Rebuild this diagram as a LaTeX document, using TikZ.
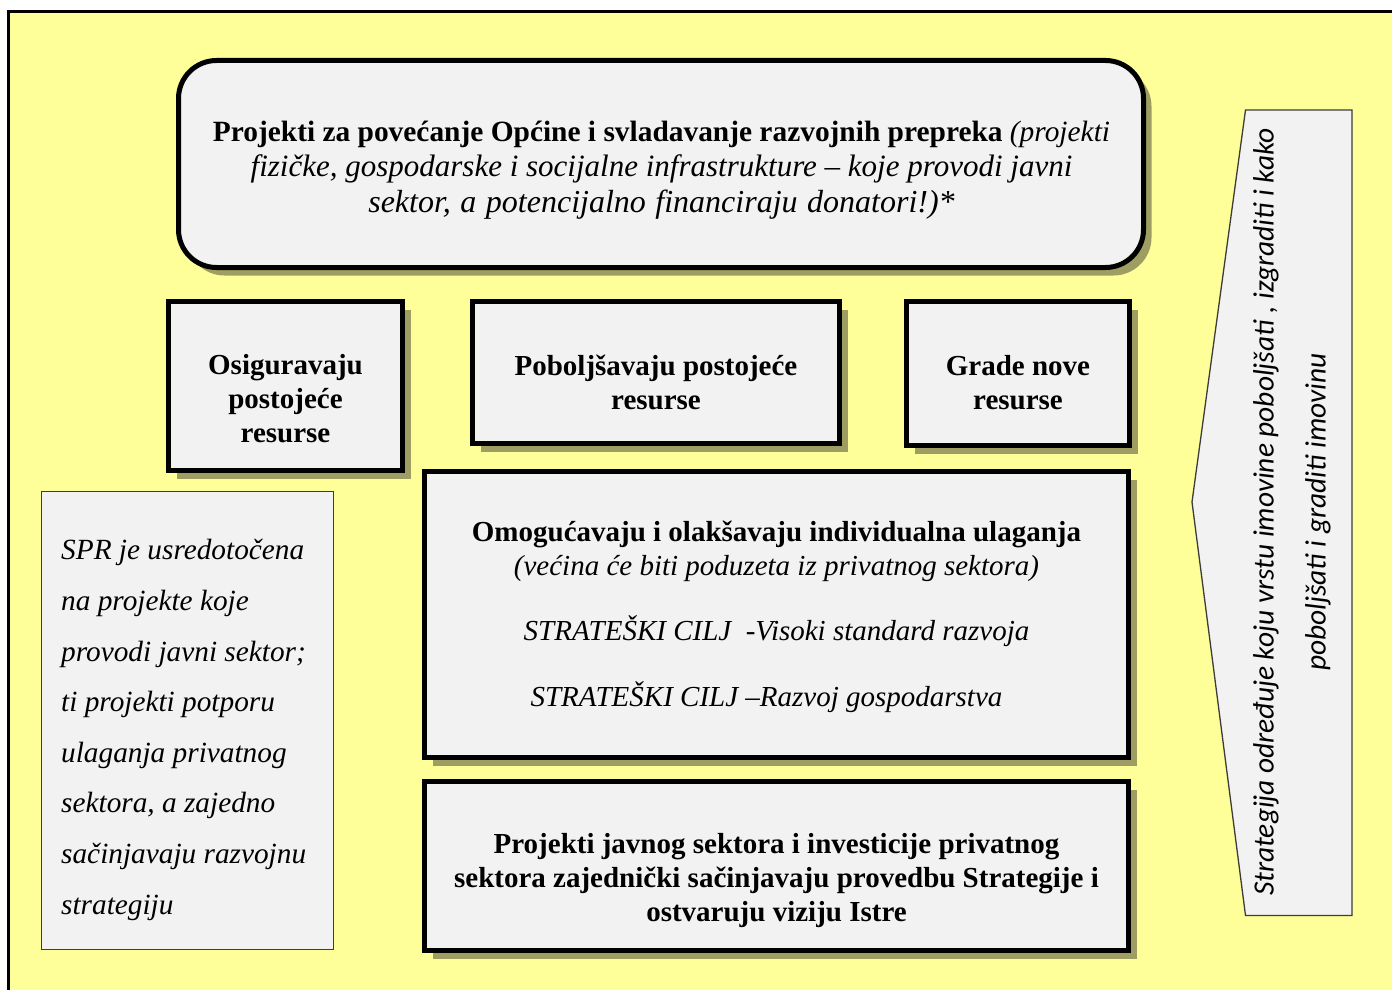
\documentclass[tikz,border=0pt]{standalone}
\usepackage{fontspec}
\setmainfont{Liberation Serif}
\newfontfamily\calib{Carlito}
\usetikzlibrary{shadows}
\definecolor{bgyel}{RGB}{255,255,153}
\definecolor{boxfill}{RGB}{242,242,242}
\definecolor{shcol}{RGB}{158,158,98}
\definecolor{thinline}{RGB}{60,60,60}
\tikzset{
  bx/.style={draw=black, line width=5pt, fill=boxfill, inner sep=0pt,
    drop shadow={shadow xshift=8pt, shadow yshift=-8pt, fill=shcol, opacity=1}},
  thinbx/.style={draw=thinline, line width=1.3pt, fill=boxfill, inner sep=0pt},
  btxt/.style={font=\fontsize{29}{34}\selectfont\bfseries, align=center, inner sep=0pt},
  mtxt/.style={font=\fontsize{29}{34}\selectfont, align=center, inner sep=0pt},
  ltxt/.style={font=\fontsize{29.3}{50.6}\selectfont\itshape, align=left, inner sep=0pt},
  rtxt/.style={font=\fontsize{29.4}{52}\selectfont\calib\itshape, align=center, inner sep=0pt}
}
\begin{document}
\begin{tikzpicture}[x=1pt,y=-1pt]
\useasboundingbox (0,0) rectangle (1392,990);
\fill[white] (0,0) rectangle (1392,990);
\fill[bgyel] (8.7,11.7) rectangle (1392,990);
\draw[line width=3.4pt] (8.7,990) -- (8.7,11.7) -- (1392,11.7);

% top rounded box
\node[bx, rounded corners=38pt, minimum width=965pt, minimum height=207pt] (top) at (661,164) {};
\node[mtxt, font=\fontsize{29.4}{35.5}\selectfont] (toptxt) at (661.5,170)
  {\textbf{Projekti za povećanje Općine i svladavanje razvojnih prepreka} \textit{(projekti}\\
   {\fontsize{31}{35.5}\selectfont\itshape fizičke, gospodarske i socijalne infrastrukture – koje provodi javni}\\
   {\fontsize{32}{35.5}\selectfont\itshape\spaceskip=9.5pt sektor, a potencijalno financiraju donatori!)*}};

% three resource boxes
\node[bx, minimum width=234pt, minimum height=169pt] (osig) at (285.5,386) {};
\node[btxt] (osigtxt) at (285.5,399) {Osiguravaju\\postojeće\\resurse};

\node[bx, minimum width=367pt, minimum height=142pt] (pobo) at (656,372.5) {};
\node[btxt] (pobotxt) at (656,382) {Poboljšavaju postojeće\\resurse};

\node[bx, minimum width=223pt, minimum height=144pt] (grade) at (1018,373.5) {};
\node[btxt] (gradetxt) at (1018,382.5) {Grade nove\\resurse};

% middle box
\node[bx, minimum width=704pt, minimum height=286pt] (omog) at (776.5,614.5) {};
\node[mtxt] (omogtxt) at (776.5,617)
  {\textbf{Omogućavaju i olakšavaju individualna ulaganja}\\
   \textit{(većina će biti poduzeta iz privatnog sektora)}\\[31pt]
   \textit{STRATEŠKI CILJ\ \ -Visoki standard razvoja}\\[32pt]
   \textit{STRATEŠKI CILJ –Razvoj gospodarstva}\hspace*{20pt}};

% bottom box
\node[bx, minimum width=704pt, minimum height=169pt] (proj) at (776.5,866) {};
\node[btxt] (projtxt) at (776.5,881)
  {Projekti javnog sektora i investicije privatnog\\
   sektora zajednički sačinjavaju provedbu Strategije i\\
   ostvaruju viziju Istre};

% left box
\node[thinbx, minimum width=292pt, minimum height=458pt] (spr) at (187.5,720.5) {};
\node[ltxt, anchor=west] (sprtxt) at (61,730)
  {SPR je usredotočena\\na projekte koje\\provodi javni sektor;\\ti projekti potporu\\ulaganja privatnog\\sektora, a zajedno\\sačinjavaju razvojnu\\strategiju};

% right arrow (pentagon pointing left)
\coordinate (atl) at (1245.5,110);
\coordinate (atr) at (1352,110);
\coordinate (abr) at (1352,915.5);
\coordinate (abl) at (1245.5,915.5);
\coordinate (atip) at (1192,502);
\draw[thinline, line width=1.3pt, fill=boxfill] (atl) -- (atr) -- (abr) -- (abl) -- (atip) -- cycle;
\node[rtxt, rotate=90] (strtxt) at (1292,512)
  {Strategija određuje koju vrstu imovine poboljšati , izgraditi i kako\\
   poboljšati i graditi imovinu};
\end{tikzpicture}
\end{document}
